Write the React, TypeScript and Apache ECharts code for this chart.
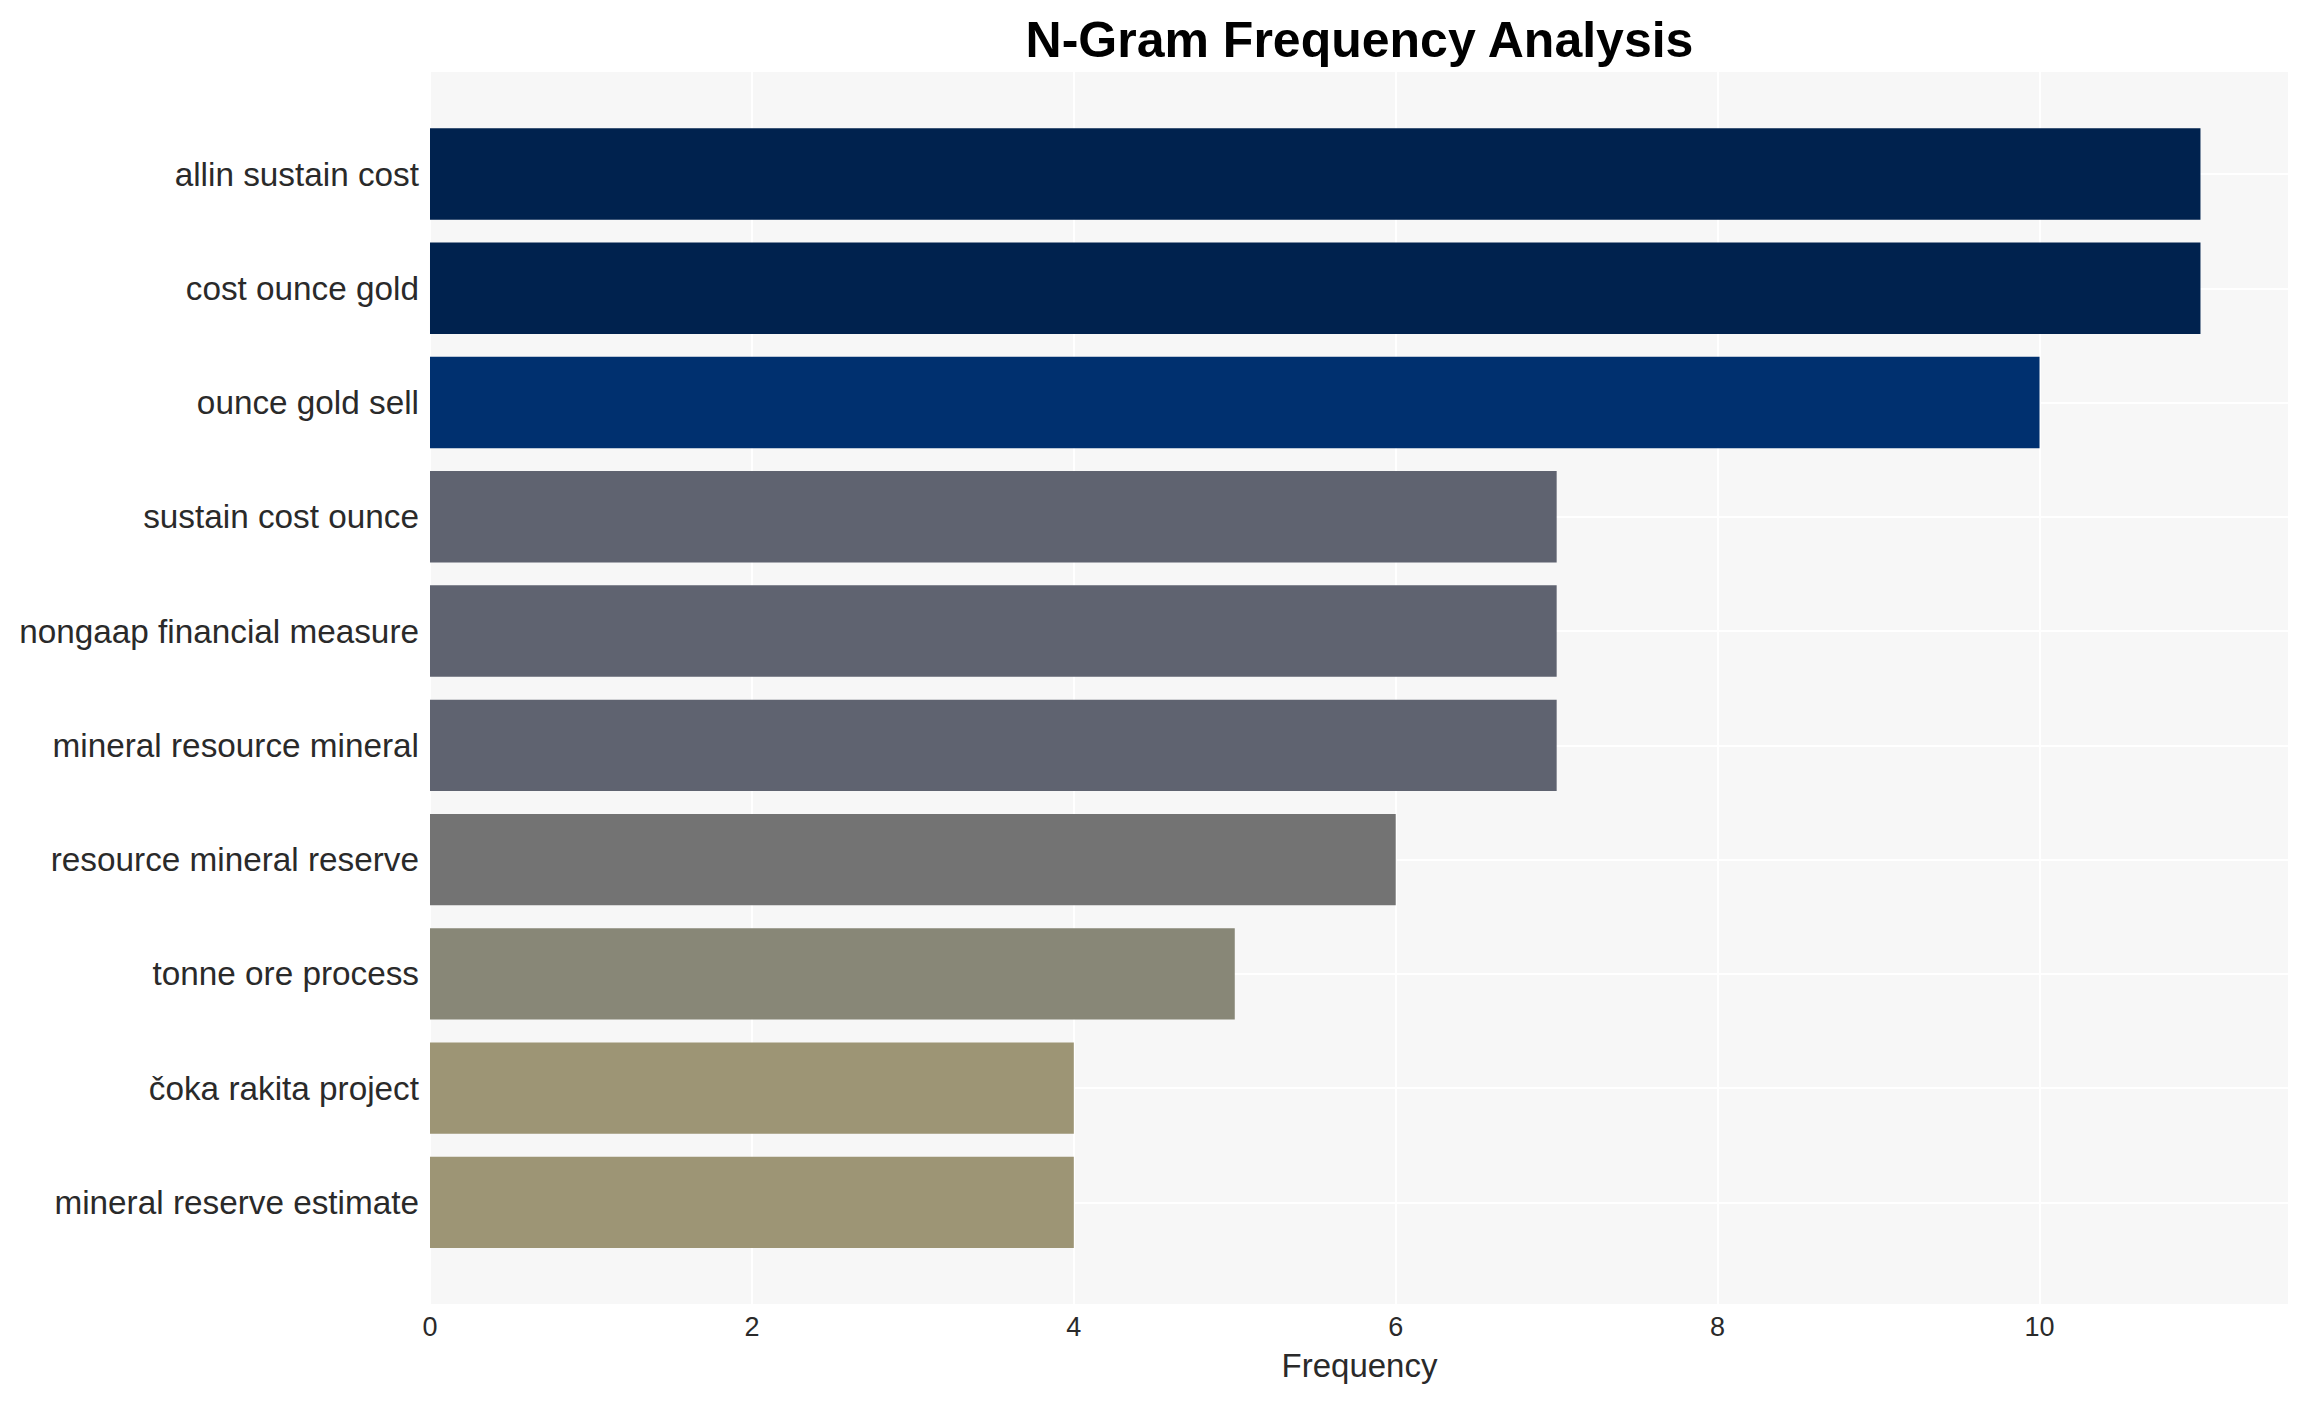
import { useEffect, useRef } from "react";
import * as echarts from "echarts";

const categories = [
  "allin sustain cost",
  "cost ounce gold",
  "ounce gold sell",
  "sustain cost ounce",
  "nongaap financial measure",
  "mineral resource mineral",
  "resource mineral reserve",
  "tonne ore process",
  "čoka rakita project",
  "mineral reserve estimate",
];

const frequencies = [11, 11, 10, 7, 7, 7, 6, 5, 4, 4];

const barColors = [
  "#00224e",
  "#00224e",
  "#00306f",
  "#5f6370",
  "#5f6370",
  "#5f6370",
  "#737373",
  "#888777",
  "#9d9575",
  "#9d9575",
];

const xTicks = { min: 0, max: 11.55, interval: 2 };

const FONT = "'Liberation Sans', Arial, sans-serif";

// plot area in page pixels
const PLOT_LEFT = 430;
const PLOT_WIDTH = 1859;
const PLOT_TOP = 72;
const PLOT_HEIGHT = 1232;
const BAND_TOP = 116.9;
const BAND_HEIGHT = 1142.6;

function App() {
  const chartRef = useRef<HTMLDivElement>(null);

  useEffect(() => {
    document.body.style.margin = "0";
    if (!chartRef.current) return;
    const chart = echarts.init(chartRef.current, null, { renderer: "svg" });
    const step = BAND_HEIGHT / categories.length;

    const hiddenX = (gridIndex: number) => ({
      type: "value",
      gridIndex,
      min: xTicks.min,
      max: xTicks.max,
      interval: xTicks.interval,
      show: false,
    });

    const option = {
      animation: false,
      backgroundColor: "#ffffff",
      textStyle: { fontFamily: FONT },
      graphic: [
        {
          type: "text",
          x: PLOT_LEFT + PLOT_WIDTH / 2,
          y: 40,
          style: {
            text: "N-Gram Frequency Analysis",
            font: `bold 50px ${FONT}`,
            fill: "#000000",
            textAlign: "center",
            textVerticalAlign: "middle",
          },
        },
      ],
      grid: [
        {
          left: PLOT_LEFT,
          top: PLOT_TOP,
          width: PLOT_WIDTH,
          height: PLOT_HEIGHT,
          show: true,
          backgroundColor: "#f7f7f7",
          borderWidth: 0,
        },
        {
          left: PLOT_LEFT,
          top: BAND_TOP,
          width: PLOT_WIDTH,
          height: BAND_HEIGHT,
        },
        {
          left: PLOT_LEFT,
          top: BAND_TOP + step / 2,
          width: PLOT_WIDTH,
          height: BAND_HEIGHT - step,
        },
      ],
      xAxis: [
        {
          type: "value",
          gridIndex: 0,
          min: xTicks.min,
          max: xTicks.max,
          interval: xTicks.interval,
          axisLine: { show: false },
          axisTick: { show: false },
          axisLabel: {
            fontSize: 27,
            color: "#2a2a2a",
            margin: 9,
            fontFamily: FONT,
            showMaxLabel: false,
          },
          splitLine: { show: true, lineStyle: { color: "#ffffff", width: 2 } },
          name: "Frequency",
          nameLocation: "middle",
          nameGap: 45,
          nameTextStyle: { fontSize: 33, color: "#2a2a2a", fontFamily: FONT },
        },
        hiddenX(1),
        hiddenX(2),
      ],
      yAxis: [
        { type: "value", gridIndex: 0, show: false },
        {
          type: "category",
          gridIndex: 1,
          inverse: true,
          data: categories,
          axisLine: { show: false },
          axisTick: { show: false },
          splitLine: { show: false },
          axisLabel: {
            fontSize: 33.3,
            color: "#2a2a2a",
            margin: 11,
            fontFamily: FONT,
          },
        },
        {
          type: "category",
          gridIndex: 2,
          inverse: true,
          boundaryGap: false,
          data: categories,
          axisLine: { show: false },
          axisTick: { show: false },
          axisLabel: { show: false },
          splitLine: { show: true, lineStyle: { color: "#ffffff", width: 2 } },
        },
      ],
      series: [
        {
          type: "bar",
          xAxisIndex: 1,
          yAxisIndex: 1,
          barCategoryGap: "20%",
          data: frequencies.map((v, i) => ({
            value: v,
            itemStyle: { color: barColors[i] },
          })),
        },
      ],
    };

    chart.setOption(option as any, true);

    return () => {
      chart.dispose();
    };
  }, []);

  return <div ref={chartRef} style={{ width: "2310px", height: "1402px" }} />;
}

export default App;
